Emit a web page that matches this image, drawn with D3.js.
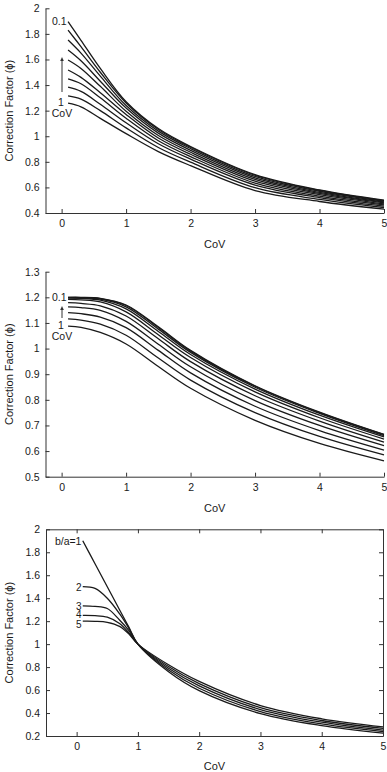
<!DOCTYPE html>
<html><head><meta charset="utf-8">
<script src="https://cdn.jsdelivr.net/npm/d3@7"></script>
<style>
body{margin:0;background:#fff}
svg{display:block}
text{font-family:"Liberation Sans",Arial,Helvetica,sans-serif;fill:#1a1a1a}
</style>
</head><body>
<svg id="c" width="387" height="772"></svg>
<script>
// ---------- data ----------
const covParams = [0.1,0.2,0.3,0.4,0.5,0.6,0.7,0.8,0.9,1.0];
const xPts = [0.1,0.3,0.6,1,1.5,2,3,4,5];

const panel1Series = [
  [1.896,1.75,1.53,1.27,1.06,0.92,0.70,0.58,0.50],
  [1.830,1.70,1.50,1.26,1.053,0.914,0.695,0.576,0.497],
  [1.752,1.65,1.47,1.24,1.04,0.904,0.686,0.570,0.492],
  [1.674,1.59,1.43,1.22,1.024,0.89,0.675,0.562,0.486],
  [1.596,1.53,1.39,1.195,1.006,0.875,0.663,0.553,0.479],
  [1.518,1.46,1.34,1.17,0.986,0.859,0.649,0.543,0.471],
  [1.448,1.41,1.30,1.14,0.965,0.841,0.634,0.532,0.463],
  [1.383,1.35,1.25,1.105,0.941,0.821,0.618,0.521,0.454],
  [1.315,1.29,1.20,1.065,0.912,0.797,0.598,0.506,0.443],
  [1.258,1.23,1.14,1.02,0.88,0.77,0.575,0.49,0.43]
];

const panel2Series = [
  [1.200,1.200,1.196,1.170,1.085,0.993,0.855,0.752,0.665],
  [1.200,1.199,1.195,1.168,1.082,0.990,0.853,0.750,0.664],
  [1.199,1.198,1.193,1.163,1.076,0.985,0.849,0.747,0.660],
  [1.197,1.196,1.189,1.155,1.067,0.977,0.842,0.740,0.655],
  [1.192,1.190,1.182,1.143,1.054,0.965,0.831,0.730,0.647],
  [1.179,1.176,1.167,1.127,1.038,0.949,0.816,0.717,0.635],
  [1.163,1.160,1.149,1.106,1.017,0.929,0.797,0.700,0.621],
  [1.140,1.136,1.123,1.082,0.993,0.905,0.775,0.680,0.604],
  [1.116,1.111,1.095,1.052,0.963,0.877,0.750,0.657,0.585],
  [1.088,1.083,1.063,1.018,0.930,0.845,0.72,0.63,0.562]
];

const ratios = [1,2,3,4,5];
const xPts3 = [0.1,0.3,0.5,0.7,0.85,1,1.5,2,3,4,5];
const panel3Series = [
  [1.9,1.7,1.5,1.3,1.15,1.0,0.76,0.595,0.395,0.29,0.225],
  [1.5,1.485,1.40,1.265,1.14,1.0,0.775,0.616,0.413,0.305,0.238],
  [1.333,1.328,1.31,1.21,1.12,1.0,0.79,0.637,0.430,0.320,0.252],
  [1.25,1.248,1.235,1.18,1.10,1.0,0.805,0.656,0.447,0.335,0.266],
  [1.2,1.199,1.19,1.155,1.09,1.0,0.82,0.675,0.465,0.35,0.28]
];
const ratioLabels = ["b/a=1","2","3","4","5"];

const xTicks = [0,1,2,3,4,5];
const yTicks1 = [0.4,0.6,0.8,1,1.2,1.4,1.6,1.8,2];
const yTicks2 = [0.5,0.6,0.7,0.8,0.9,1,1.1,1.2,1.3];
const yTicks3 = [0.2,0.4,0.6,0.8,1,1.2,1.4,1.6,1.8,2];
const xTitle = "CoV";
const yTitle = "Correction Factor (\u03D5)";

// ---------- drawing ----------
const svg = d3.select("#c");
const FS = 10.5;
const ink = "#1a1a1a";

function panel(cfg){
  const x = d3.scaleLinear().domain(cfg.xDomain).range([cfg.left, cfg.right]);
  const y = d3.scaleLinear().domain(cfg.yDomain).range([cfg.bottom, cfg.top]);
  const g = svg.append("g");
  const fmt = d => String(+d.toFixed(1));

  g.append("g").attr("transform",`translate(0,${cfg.bottom})`)
    .call(d3.axisBottom(x).tickValues(xTicks).tickFormat(fmt).tickSizeInner(-4).tickSizeOuter(0).tickPadding(7));
  g.append("g").attr("transform",`translate(${cfg.left},0)`)
    .call(d3.axisLeft(y).tickValues(cfg.yTicks).tickFormat(fmt).tickSizeInner(-4).tickSizeOuter(0).tickPadding(6));
  if (cfg.box){
    g.append("g").attr("transform",`translate(0,${cfg.top})`)
      .call(d3.axisTop(x).tickValues(xTicks).tickFormat("").tickSizeInner(-4).tickSizeOuter(0));
    g.append("g").attr("transform",`translate(${cfg.right},0)`)
      .call(d3.axisRight(y).tickValues(cfg.yTicks).tickFormat("").tickSizeInner(-4).tickSizeOuter(0));
  }
  g.selectAll(".domain").attr("stroke","#333").attr("stroke-width",1);
  g.selectAll(".tick line").attr("stroke","#333");
  g.selectAll(".tick text").attr("font-size",FS).attr("font-family",'"Liberation Sans",Arial,sans-serif').attr("fill",ink);

  g.append("text").attr("x",(cfg.left+cfg.right)/2).attr("y",cfg.xTitleY)
    .attr("text-anchor","middle").attr("font-size",FS+0.5).text(xTitle);
  g.append("text").attr("transform",`translate(12.5,${(cfg.top+cfg.bottom)/2}) rotate(-90)`)
    .attr("text-anchor","middle").attr("font-size",FS+0.5).text(yTitle);

  const line = d3.line().x(d=>x(d[0])).y(d=>y(d[1])).curve(d3.curveCatmullRom.alpha(0.5));
  cfg.series.forEach(s=>{
    g.append("path").datum(cfg.xs.map((xv,i)=>[xv,s[i]]))
      .attr("d",line).attr("fill","none").attr("stroke",ink).attr("stroke-width",1.3);
  });
  return {x,y,g};
}

function arrow(g,xp,y0,y1){
  g.append("line").attr("x1",xp).attr("x2",xp).attr("y1",y0).attr("y2",y1+3)
    .attr("stroke","#333").attr("stroke-width",1);
  g.append("path").attr("d",`M${xp-1.8},${y1+4}L${xp},${y1}L${xp+1.8},${y1+4}Z`).attr("fill","#333");
}

// Panel 1
const p1 = panel({left:45.5,right:384,top:8.3,bottom:213,xDomain:[-0.25,5],yDomain:[0.4,2],
  yTicks:yTicks1,box:false,xTitleY:248,series:panel1Series,xs:xPts});
{
  const {x,y,g} = p1;
  g.append("text").attr("x",x(0.1)-1.5).attr("y",y(panel1Series[0][0])+3.5)
    .attr("text-anchor","end").attr("font-size",FS).text(String(covParams[0]));
  g.append("text").attr("x",61).attr("y",y(panel1Series[9][0])+3)
    .attr("text-anchor","middle").attr("font-size",FS).text(String(covParams[9]));
  g.append("text").attr("x",62).attr("y",117)
    .attr("text-anchor","middle").attr("font-size",FS).text(xTitle);
  arrow(g,62,92,57);
}

// Panel 2
const p2 = panel({left:45.5,right:384,top:271.7,bottom:476.7,xDomain:[-0.25,5],yDomain:[0.5,1.3],
  yTicks:yTicks2,box:false,xTitleY:512,series:panel2Series,xs:xPts});
{
  const {x,y,g} = p2;
  g.append("text").attr("x",x(0.1)-1.5).attr("y",y(panel2Series[0][0])+3.5)
    .attr("text-anchor","end").attr("font-size",FS).text(String(covParams[0]));
  g.append("text").attr("x",61).attr("y",y(panel2Series[9][0])+2.5)
    .attr("text-anchor","middle").attr("font-size",FS).text(String(covParams[9]));
  g.append("text").attr("x",62).attr("y",340)
    .attr("text-anchor","middle").attr("font-size",FS).text(xTitle);
  arrow(g,62,318,306);
}

// Panel 3
const p3 = panel({left:46,right:383,top:529.3,bottom:736,xDomain:[-0.5,5],yDomain:[0.2,2],
  yTicks:yTicks3,box:true,xTitleY:770,series:panel3Series,xs:xPts3});
{
  const {x,y,g} = p3;
  const offs = [4,4,3.8,3,6.4];
  ratioLabels.forEach((lab,i)=>{
    g.append("text").attr("x",x(xPts3[0])-1.3).attr("y",y(panel3Series[i][0])+offs[i])
      .attr("text-anchor","end").attr("font-size",i===0?FS:FS-0.5).text(lab);
  });
}
</script>
</body></html>
